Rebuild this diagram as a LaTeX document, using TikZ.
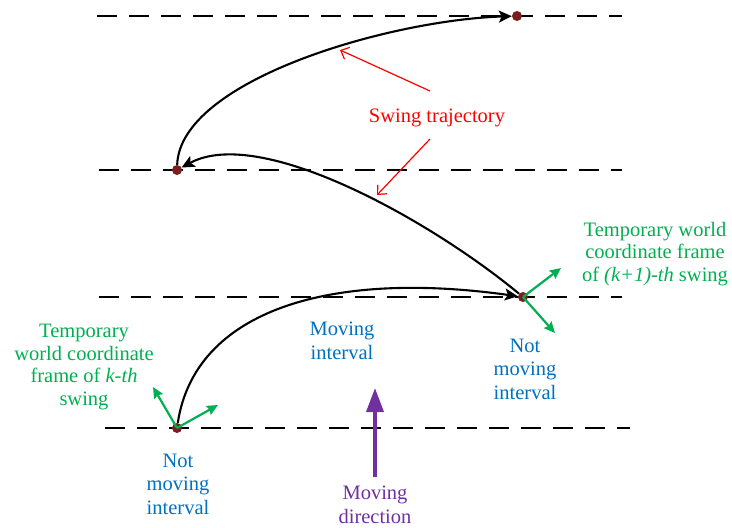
\documentclass[tikz,border=0pt]{standalone}
\usepackage{fontspec}
\setmainfont{Liberation Serif}
\usetikzlibrary{arrows.meta}
\definecolor{tgreen}{RGB}{0,176,80}
\definecolor{tblue}{RGB}{0,112,192}
\definecolor{tpurple}{RGB}{112,48,160}
\definecolor{tred}{RGB}{255,0,0}
\definecolor{tdot}{RGB}{122,30,30}
\tikzset{
  lane/.style={line width=2.4pt,dash pattern=on 20pt off 12pt},
  traj/.style={line width=2.1pt,-{Stealth[length=13pt,width=12pt,inset=3pt]}},
  footdot/.style={circle,fill=tdot,inner sep=0pt,minimum size=10pt},
  frame/.style={tgreen,line width=2.2pt,-{Stealth[length=11pt,width=10pt,inset=1.5pt]}},
  callout/.style={tred,line width=1.2pt,-{Straight Barb[length=7pt,width=13pt]}},
  lbl/.style={align=center,inner sep=0pt,font=\fontsize{20.5}{22.5}\selectfont},
  bluelbl/.style={lbl,text=tblue,font=\fontsize{20.5}{23.5}\selectfont},
}
\begin{document}
\begin{tikzpicture}[x=1pt,y=-1pt]
\useasboundingbox (0,0) rectangle (732,528);
% lanes
\coordinate (l1a) at (97,16);  \coordinate (l1b) at (622,16);
\coordinate (l2a) at (99,170); \coordinate (l2b) at (622,170);
\coordinate (l3a) at (99,297); \coordinate (l3b) at (622,297);
\coordinate (l4a) at (105,428); \coordinate (l4b) at (630,428);
\draw[lane] (l1a) -- (l1b);
\draw[lane] (l2a) -- (l2b);
\draw[lane] (l3a) -- (l3b);
\draw[lane] (l4a) -- (l4b);
% footholds
\node[footdot] (d1) at (517,16) {};
\node[footdot] (d2) at (177,170) {};
\node[footdot] (d3) at (523,297) {};
\node[footdot] (d4) at (177,428) {};
% trajectories
\draw[traj] (d4) .. controls (195,310) and (330,270) .. (d3);
\draw[traj] (d3) .. controls (430,220) and (260,125) .. (d2);
\draw[traj] (d2) .. controls (180,80) and (390,20) .. (d1);
% frames
\coordinate (f4a) at (153,387); \coordinate (f4b) at (218,405);
\coordinate (f3a) at (561,268); \coordinate (f3b) at (555,333);
\draw[frame] (d4.center) -- (f4a);
\draw[frame] (d4.center) -- (f4b);
\draw[frame] (d3.center) -- (f3a);
\draw[frame] (d3.center) -- (f3b);
% swing trajectory label
\node[lbl,text=tred] (st) at (437,118) {Swing trajectory};
\coordinate (r1a) at (430,91);  \coordinate (r1b) at (340,50);
\coordinate (r2a) at (430,139); \coordinate (r2b) at (377,195);
\draw[callout] (r1a) -- (r1b);
\draw[callout] (r2a) -- (r2b);
% green labels
\node[lbl,text=tgreen] (gl) at (84,367) {Temporary\\world coordinate\\frame of \textit{k-th}\\swing};
\node[lbl,text=tgreen] (gr) at (655,254) {Temporary world\\coordinate frame\\of \textit{(k+1)-th} swing};
% blue labels
\node[bluelbl] (mi) at (342,341) {Moving\\interval};
\node[bluelbl] (nm1) at (525,369) {Not\\moving\\interval};
\node[bluelbl] (nm2) at (178,484) {Not\\moving\\interval};
% moving direction
\coordinate (ma) at (375,477); \coordinate (mb) at (375,388);
\draw[tpurple,line width=3.5pt,-{Triangle[length=24pt,width=17pt]}] (ma) -- (mb);
\node[lbl,text=tpurple,font=\fontsize{20.5}{23.5}\selectfont] (md) at (375,505) {Moving\\direction};
\end{tikzpicture}
\end{document}
